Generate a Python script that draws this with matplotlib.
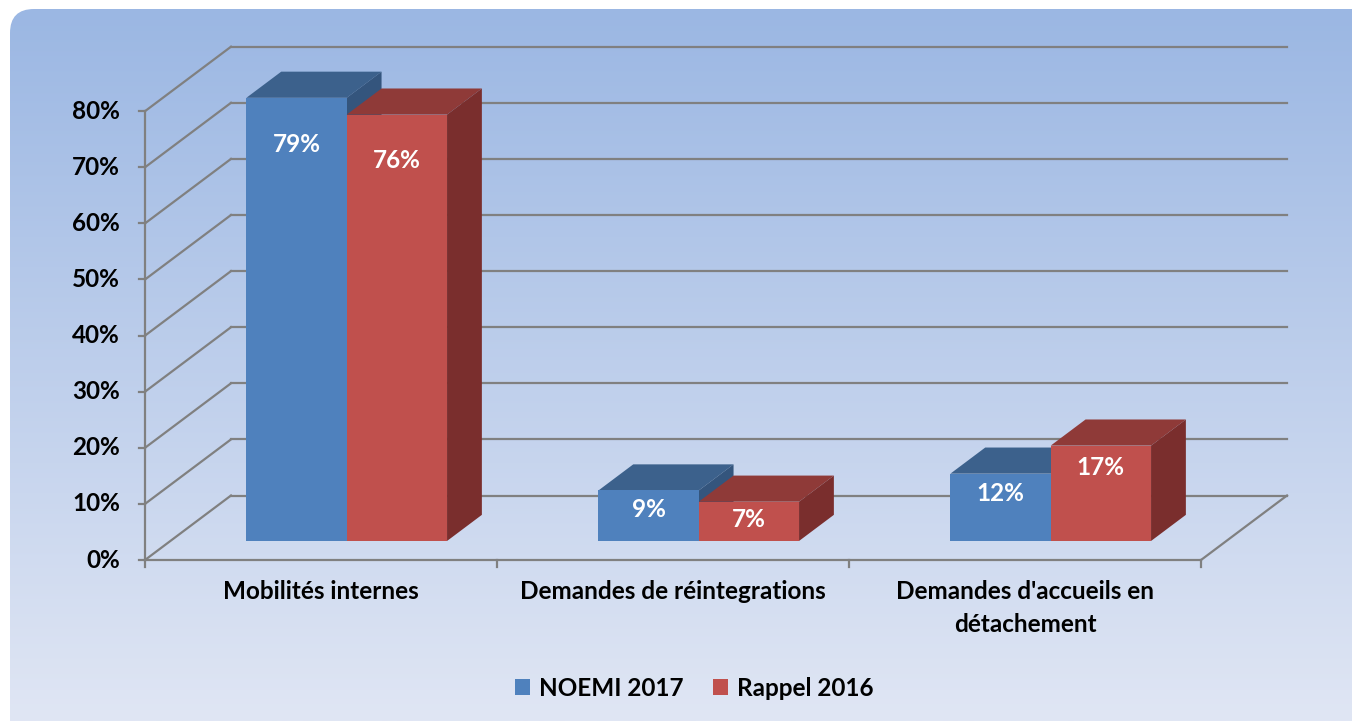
import matplotlib
matplotlib.use("Agg")
import matplotlib.pyplot as plt
import numpy as np
from matplotlib.patches import FancyBboxPatch, Polygon, Patch

# data
categories = ["Mobilités internes", "Demandes de réintegrations", "Demandes d'accueils en\ndétachement"]
series_names = ["NOEMI 2017", "Rappel 2016"]
noemi_2017 = [79, 9, 12]
rappel_2016 = [76, 7, 17]
y_ticks = [0, 10, 20, 30, 40, 50, 60, 70, 80]

# colours per series: front, top, side
front_cols = ["#4F81BD", "#C0504D"]
top_cols = ["#3C618C", "#8F3A38"]
side_cols = ["#34557D", "#7A2E2D"]
grid_col = "#808080"
FS = 17.5

W, H = 1352, 721
fig = plt.figure(figsize=(W / 100, H / 100), dpi=100)

# background panel with vertical gradient (pixel coordinates)
bg = fig.add_axes([0, 0, 1, 1])
bg.set_xlim(0, W)
bg.set_ylim(H, 0)
bg.axis("off")
panel = FancyBboxPatch((10, 9), W + 30, H + 30, boxstyle="round,pad=0,rounding_size=24",
                       facecolor="none", edgecolor="none")
bg.add_patch(panel)
grad = np.linspace(0, 1, 256)[:, None]
top_rgb = np.array([155, 183, 227]) / 255
bot_rgb = np.array([224, 230, 244]) / 255
img = top_rgb[None, None, :] * (1 - grad[:, :, None]) + bot_rgb[None, None, :] * grad[:, :, None]
im = bg.imshow(img, extent=[10, W, H, 9], aspect="auto", zorder=0)
im.set_clip_path(panel)

# chart axes: x in category units, y in percent; front plane origin at px (145, 560)
x0_px, y0_px, cat_px, pct_px = 145, 560, 352, 5.61
ax = fig.add_axes([0, 0, 1, 1], facecolor="none")
ax.set_xlim(-x0_px / cat_px, (W - x0_px) / cat_px)
ax.set_ylim((y0_px - H) / pct_px, y0_px / pct_px)
ax.axis("off")

DX = 86 / cat_px      # depth offset in x (category units)
DY = 64.5 / pct_px    # depth offset in y (percent units)
n = len(categories)
lw = 1.6

# back wall gridlines and left wall slanted lines
for v in y_ticks:
    ax.plot([DX, n + DX], [v + DY, v + DY], color=grid_col, lw=lw, zorder=1)
    ax.plot([0, DX], [v, v + DY], color=grid_col, lw=lw, zorder=1)
    ax.plot([-6 / cat_px, 0], [v, v], color=grid_col, lw=lw, zorder=1)
    ax.text(-25 / cat_px, v, f"{v}%", ha="right", va="center", fontsize=FS,
            fontweight="bold", family="Lato", color="black")
# vertical axis and floor
ax.plot([0, 0], [0, y_ticks[-1]], color=grid_col, lw=lw, zorder=1)
ax.plot([0, n], [0, 0], color=grid_col, lw=lw, zorder=1)
ax.plot([n, n + DX], [0, DY], color=grid_col, lw=lw, zorder=1)
for i in range(n + 1):
    ax.plot([i, i], [0, -7 / pct_px], color=grid_col, lw=lw, zorder=1)

# category labels
for i, c in enumerate(categories):
    ax.text(i + 0.5, -20 / pct_px, c, ha="center", va="top", fontsize=FS,
            fontweight="bold", family="Lato", color="black", linespacing=1.5)

# 3D bars
f1, f2 = 0.295, 0.70
bar_w = 0.285
start = 0.216
for i in range(n):
    for s, vals in enumerate([noemi_2017, rappel_2016]):
        v = vals[i]
        xl = i + start + s * bar_w + f1 * DX
        xr = xl + bar_w
        yb = f1 * DY
        yt = yb + v
        ddx = (f2 - f1) * DX
        ddy = (f2 - f1) * DY
        z = 3 + s
        top = Polygon([(xl, yt), (xr, yt), (xr + ddx, yt + ddy), (xl + ddx, yt + ddy)],
                      closed=True, facecolor=top_cols[s], edgecolor="none", zorder=z)
        side = Polygon([(xr, yb), (xr + ddx, yb + ddy), (xr + ddx, yt + ddy), (xr, yt)],
                       closed=True, facecolor=side_cols[s], edgecolor="none", zorder=z)
        front = Polygon([(xl, yb), (xr, yb), (xr, yt), (xl, yt)],
                        closed=True, facecolor=front_cols[s], edgecolor="none", zorder=z)
        for p in (top, side, front):
            ax.add_patch(p)
        off = (15 + 0.4 * v) / pct_px
        ax.text((xl + xr) / 2, yt - off, f"{v}%", ha="center", va="center", fontsize=FS,
                fontweight="bold", family="Lato", color="white", zorder=10)

# legend
handles = [Patch(facecolor=front_cols[k], edgecolor="none", label=series_names[k]) for k in range(2)]
fig.legend(handles=handles, loc="center", bbox_to_anchor=(694 / W, 1 - 688 / H), ncol=2,
           frameon=False, handlelength=0.65, handleheight=0.65, handletextpad=0.35,
           columnspacing=1.2, prop={"family": "Lato", "weight": "bold", "size": FS})

fig.savefig("out.png", dpi=100)
